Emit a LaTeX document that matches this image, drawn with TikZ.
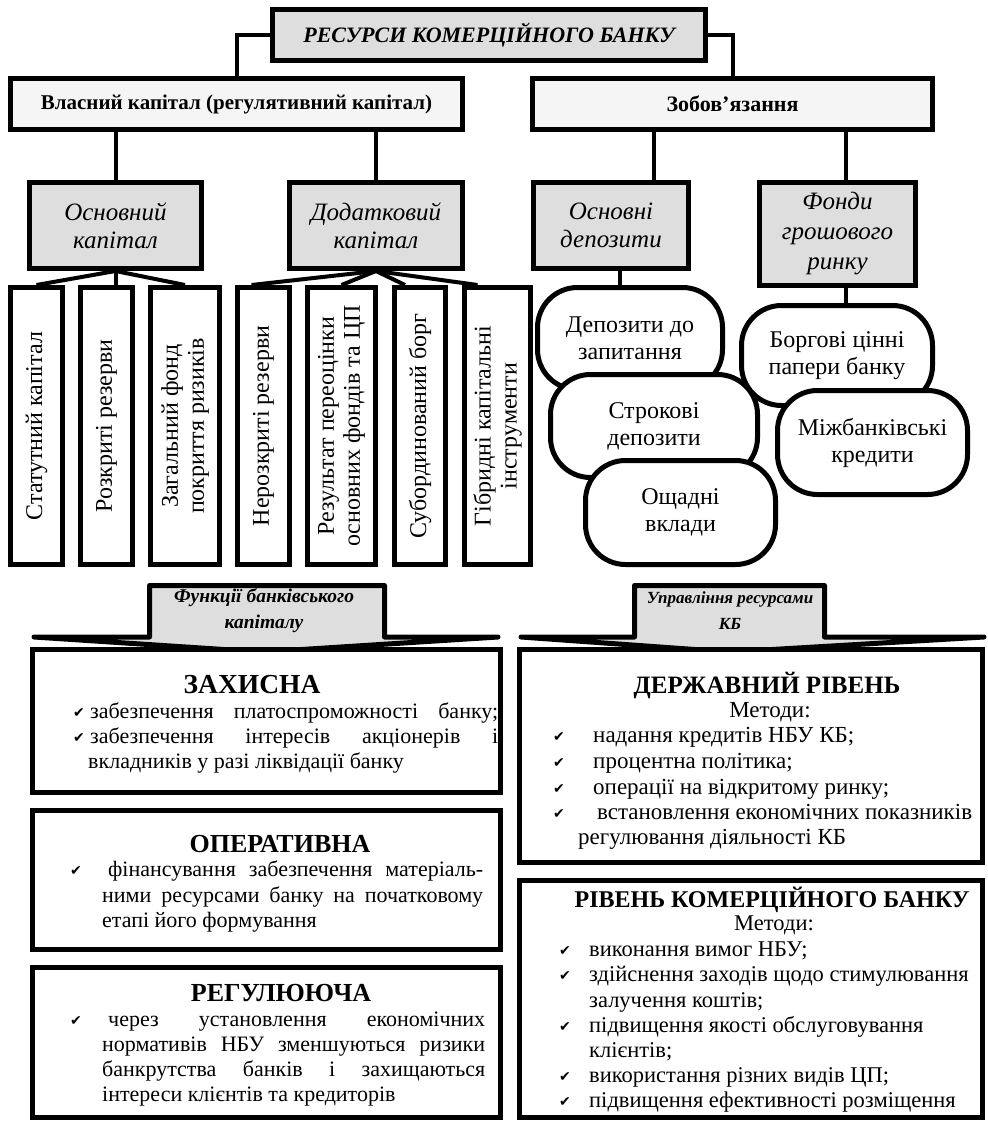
\documentclass[tikz,border=0pt]{standalone}
\usepackage{fontspec}
\setmainfont{Liberation Serif}
\newfontfamily\symfont{DejaVu Sans}
\usetikzlibrary{calc}
\pgfdeclarelayer{bg}
\pgfsetlayers{bg,main}
\definecolor{gfill}{HTML}{DEDEDE}
\definecolor{lfill}{HTML}{F5F5F5}
\newcommand{\fsz}[2]{\fontsize{#1}{#2}\selectfont}
\newcommand{\chk}{{\symfont\fontsize{14}{14}\selectfont ✔}}
\begin{document}
\begin{tikzpicture}[x=1pt,y=-1pt,
 bx/.style={draw, line width=5pt, inner sep=0pt, align=center, fill=white},
 con/.style={line width=4pt},
 tl/.style={inner sep=0pt, anchor=base west},
 tc/.style={inner sep=0pt, anchor=base},
 catf/.style={font=\fsz{25}{28.5}\itshape},
 vt/.style={rotate=90, inner sep=0pt, align=center, font=\fsz{24}{26}},
 ov/.style={bx, rounded corners=40pt, font=\fsz{24}{27}},
 arr/.style={line width=5pt, fill=gfill, line join=round},
 lb/.style={font=\fsz{22}{26}},
 rb/.style={font=\fsz{23}{26}},
 kb/.style={font=\fsz{22.5}{25}},
 hd/.style={font=\fsz{26}{28}\bfseries},
]
\useasboundingbox (0,0) rectangle (987,1123);

% --- top level
\node[bx, fill=gfill, minimum width=433pt, minimum height=51pt, font=\fsz{22}{26}\bfseries\itshape] (title) at (489,35) {РЕСУРСИ КОМЕРЦІЙНОГО БАНКУ};
\node[bx, fill=lfill, minimum width=452pt, minimum height=51pt, font=\fsz{21}{25}\bfseries] (vl) at (236.5,104) {Власний капітал (регулятивний капітал)};
\node[bx, fill=lfill, minimum width=400pt, minimum height=51pt, font=\fsz{22}{25}\bfseries] (zob) at (732.5,104) {Зобов’язання};

% --- categories
\node[bx, fill=gfill, catf, minimum width=172pt, minimum height=86pt] (osn) at (115.5,225.5) {Основний\\капітал};
\node[bx, fill=gfill, catf, minimum width=173pt, minimum height=86pt] (dod) at (376,225.5) {Додатковий\\капітал};
\node[bx, fill=gfill, catf, minimum width=155pt, minimum height=86pt] (osd) at (611,225.5) {Основні\\депозити};
\node[bx, fill=gfill, font=\fsz{25}{30}\itshape, minimum width=156pt, minimum height=103pt] (fon) at (837.5,234) {Фонди\\грошового\\ринку};

% --- vertical boxes
\node[bx, minimum width=52pt, minimum height=277pt] (b1) at (36.5,426) {};
\node[vt] (t1) at (b1) {Статутний капітал};
\node[bx, minimum width=52pt, minimum height=277pt] (b2) at (106.5,426) {};
\node[vt] (t2) at (b2) {Розкриті резерви};
\node[bx, minimum width=69pt, minimum height=277pt] (b3) at (185,426) {};
\node[vt] (t3) at (b3) {Загальний фонд\\покриття ризиків};
\node[bx, minimum width=52pt, minimum height=277pt] (b4) at (263.5,426) {};
\node[vt] (t4) at (b4) {Нерозкриті резерви};
\node[bx, minimum width=68pt, minimum height=277pt] (b5) at (341.5,426) {};
\node[vt] (t5) at (b5) {Результат переоцінки\\основних фондів та ЦП};
\node[bx, minimum width=51pt, minimum height=277pt] (b6) at (420,426) {};
\node[vt] (t6) at (b6) {Субординований борг};
\node[bx, minimum width=66pt, minimum height=277pt] (b7) at (497.5,426) {};
\node[vt] (t7) at (b7) {Гібридні капітальні\\інструменти};

% --- ovals
\node[ov, minimum width=185pt, minimum height=102pt] (ov1) at (630,338.5) {Депозити до\\запитання};
\node[ov, minimum width=207pt, minimum height=103pt] (ov2) at (654,426) {Строкові\\депозити};
\node[ov, minimum width=190pt, minimum height=104pt] (ov3) at (680.5,512.5) {Ощадні\\вклади};
\node[ov, minimum width=191pt, minimum height=100pt] (ov4) at (837,355.5) {Боргові цінні\\папери банку};
\node[ov, minimum width=190pt, minimum height=104pt] (ov5) at (872.5,442.5) {Міжбанківські\\кредити};

% --- connectors
\begin{pgfonlayer}{bg}
\draw[con] (title.west) -| (vl.north);
\draw[con] (title.east) -| (zob.north);
\draw[con] (osn.north) -- (osn.north |- vl.south);
\draw[con] (dod.north) -- (dod.north |- vl.south);
\draw[con] ([xshift=43pt]osd.north) -- ([xshift=43pt]osd.north |- zob.south);
\draw[con] ([xshift=8.5pt]fon.north) -- ([xshift=8.5pt]fon.north |- zob.south);
\draw[con] (osn.south) -- (b1.north);
\draw[con] (osn.south) -- (osn.south |- b2.north);
\draw[con] (osn.south) -- (b3.north);
\draw[con] (dod.south) -- ([xshift=-12pt]b4.north);
\draw[con] (dod.south) -- (b5.north);
\draw[con] (dod.south) -- ([xshift=-15pt]b6.north);
\draw[con] (dod.south) -- ([xshift=-20pt]b7.north);
\draw[con] ([xshift=9pt]osd.south) -- ([xshift=9pt]osd.south |- ov1.north);
\draw[con] ([xshift=8.5pt]fon.south) -- ([xshift=8.5pt]fon.south |- ov4.north);
\end{pgfonlayer}

% --- big arrows
\draw[arr] (149.5,585.5) -- (384.5,585.5) -- (384.5,637) -- (498,637) -- (262,652) -- (34,637) -- (149.5,637) -- cycle;
\node[font=\fsz{19.5}{26}\bfseries\itshape, align=center, inner sep=0pt] (al) at (264,611) {Функції банківського\\капіталу};
\draw[arr] (634.5,585.5) -- (824.5,585.5) -- (824.5,637) -- (984,637) -- (729.5,652) -- (521,637) -- (634.5,637) -- cycle;
\node[font=\fsz{17}{26}\bfseries\itshape, align=center, inner sep=0pt] (ar) at (730,611) {Управління ресурсами\\КБ};

% --- bottom boxes
\node[bx, minimum width=468pt, minimum height=143pt] (zah) at (266.5,721) {};
\node[bx, minimum width=468pt, minimum height=139pt] (oper) at (266.5,880) {};
\node[bx, minimum width=468pt, minimum height=150pt] (reg) at (266.5,1042.5) {};
\node[bx, minimum width=463pt, minimum height=213pt] (derzh) at (751,756) {};
\node[bx, minimum width=463pt, minimum height=237pt] (kbb) at (751,999) {};

% ЗАХИСНА
\node[tc, font=\fsz{27.5}{28}\bfseries] (zh) at (252,693) {ЗАХИСНА};
\node[tl] (zc1) at (73,717) {\chk};
\node[tl, lb] (z1) at (90,718) {\makebox[408pt][s]{забезпечення платоспроможності банку;}};
\node[tl] (zc2) at (73,742) {\chk};
\node[tl, lb] (z2) at (90,743) {\makebox[408pt][s]{забезпечення інтересів акціонерів і}};
\node[tl, lb] (z3) at (88,768) {вкладників у разі ліквідації банку};

% ОПЕРАТИВНА
\node[hd, tc] (oh) at (280,852) {ОПЕРАТИВНА};
\node[tl] (oc1) at (70,875) {\chk};
\node[tl, lb] (o1) at (108,876) {\makebox[375pt][s]{фінансування забезпечення матеріаль-}};
\node[tl, lb] (o2) at (102,902) {\makebox[381pt][s]{ними ресурсами банку на початковому}};
\node[tl, lb] (o3) at (102,927) {етапі його формування};

% РЕГУЛЮЮЧА
\node[hd, tc] (rh) at (281,1001) {РЕГУЛЮЮЧА};
\node[tl] (rc1) at (70,1025) {\chk};
\node[tl, lb] (r1) at (108,1026) {\makebox[377pt][s]{через установлення економічних}};
\node[tl, lb] (r2) at (102,1051) {\makebox[383pt][s]{нормативів НБУ зменшуються ризики}};
\node[tl, lb] (r3) at (102,1076) {\makebox[383pt][s]{банкрутства банків і захищаються}};
\node[tl, lb] (r4) at (102,1101) {інтереси клієнтів та кредиторів};

% ДЕРЖАВНИЙ РІВЕНЬ
\node[tc, font=\fsz{25}{28}\bfseries] (dh) at (767,693) {ДЕРЖАВНИЙ РІВЕНЬ};
\node[tc, rb] (dm) at (770,717) {Методи:};
\node[tl] (dc1) at (553,741) {\chk};
\node[tl, rb] (d1) at (593,742) {надання кредитів НБУ КБ;};
\node[tl] (dc2) at (553,767) {\chk};
\node[tl, rb] (d2) at (593,768) {процентна політика;};
\node[tl] (dc3) at (553,793) {\chk};
\node[tl, rb] (d3) at (593,794) {операції на відкритому ринку;};
\node[tl] (dc4) at (553,818) {\chk};
\node[tl, rb] (d4) at (597,819) {встановлення економічних показників};
\node[tl, rb] (d5) at (578,844) {регулювання діяльності КБ};

% РІВЕНЬ КОМЕРЦІЙНОГО БАНКУ
\node[tc, font=\fsz{24}{28}\bfseries] (kh) at (772,907) {РІВЕНЬ КОМЕРЦІЙНОГО БАНКУ};
\node[tc, kb] (km) at (774,930) {Методи:};
\node[tl] (kc1) at (559,955) {\chk};
\node[tl, kb] (k1) at (589,956) {виконання вимог НБУ;};
\node[tl] (kc2) at (559,980) {\chk};
\node[tl, kb] (k2) at (589,981) {здійснення заходів щодо стимулювання};
\node[tl, kb] (k3) at (589,1007) {залучення коштів;};
\node[tl] (kc4) at (559,1031) {\chk};
\node[tl, kb] (k4) at (589,1032) {підвищення якості обслуговування};
\node[tl, kb] (k5) at (589,1057) {клієнтів;};
\node[tl] (kc6) at (559,1081) {\chk};
\node[tl, kb] (k6) at (589,1082) {використання різних видів ЦП;};
\node[tl] (kc7) at (559,1106) {\chk};
\node[tl, kb] (k7) at (589,1107) {підвищення ефективності розміщення};
\end{tikzpicture}
\end{document}
